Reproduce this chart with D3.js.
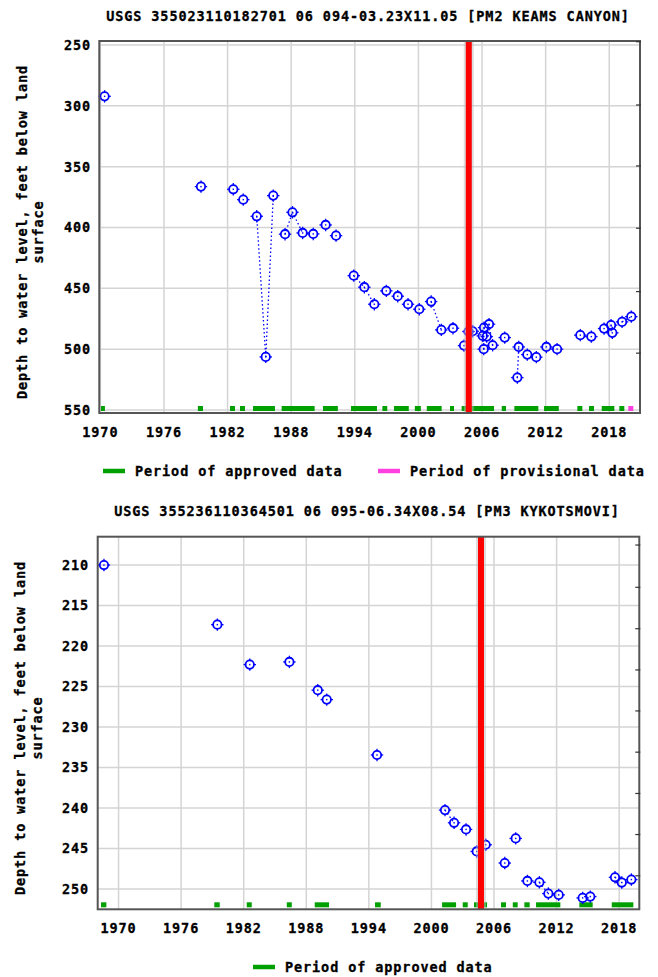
<!DOCTYPE html>
<html>
<head>
<meta charset="utf-8">
<script src="https://d3js.org/d3.v7.min.js"></script>
<style>
  body { margin: 0; background: #fff; }
  svg text { font-family: "DejaVu Sans Mono", monospace; font-weight: bold; font-size: 13.5px; letter-spacing: 0.9px; fill: #000; stroke: #000; stroke-width: 0.3px; }
</style>
</head>
<body>
<div id="chart"></div>
<script>
// ---- data, decimal years / feet below land surface ----
const xTickYears = [1970, 1976, 1982, 1988, 1994, 2000, 2006, 2012, 2018];
const markerYear = 2004.75;

// PM2 KEAMS CANYON
const topTitle = "USGS 355023110182701 06 094-03.23X11.05 [PM2 KEAMS CANYON]";
const topYTicks = [250, 300, 350, 400, 450, 500, 550];
const topRightTicks = [247.3, 299.3, 349.4, 400.6, 452.7, 503.3];
const topYears = [1970.4, 1979.49, 1982.54, 1983.48, 1984.75, 1985.6, 1986.31, 1987.42, 1988.12, 1989.08,
  1990.08, 1991.25, 1992.23, 1993.9, 1994.9, 1995.84, 1996.97, 1998.05, 1999.02, 2000.08,
  2001.2, 2002.16, 2003.26, 2004.3, 2004.72, 2005.12, 2006.07, 2006.16, 2006.19, 2006.44,
  2006.66, 2007.0, 2008.14, 2009.33, 2009.46, 2010.27, 2011.12, 2012.07, 2013.08, 2015.27,
  2016.31, 2017.51, 2018.17, 2018.29, 2019.21, 2020.08];
const topDepths = [292.2, 366.4, 368.6, 377.1, 390.8, 506.4, 373.8, 405.5, 387.5, 404.5,
  405.3, 397.9, 406.7, 439.6, 449.1, 463.1, 452.1, 456.5, 463.1, 467.2,
  460.9, 484.2, 482.8, 497.1, 485.5, 485.3, 489.1, 500.0, 482.3, 489.7,
  479.5, 496.8, 490.5, 523.4, 498.2, 504.5, 506.6, 498.2, 500.0, 488.5,
  489.7, 483.1, 480.3, 486.6, 477.6, 473.3];
const topLinks = [0, 0, 0, 0, 0, 1, 1, 0, 1, 1,
  0, 0, 0, 0, 1, 1, 0, 0, 0, 0,
  0, 1, 0, 0, 0, 1, 1, 1, 1, 1,
  1, 1, 0, 0, 1, 0, 0, 0, 0, 0,
  0, 0, 0, 1, 0, 1];
const topApprovedStart = [1970.06, 1979.2, 1982.23, 1983.17, 1984.4, 1987.1, 1991.0, 1993.64, 1996.6, 1997.7,
  1999.66, 2000.79, 2002.98, 2004.08, 2007.86, 2009.05, 2011.85, 2014.99, 2016.09, 2017.29, 2018.95];
const topApprovedEnd = [1970.43, 1979.68, 1982.7, 1983.64, 1986.47, 1990.21, 1992.4, 1996.09, 1997.06, 1999.09,
  2000.23, 2002.19, 2003.36, 2007.13, 2008.26, 2011.31, 2013.24, 2015.46, 2016.56, 2018.48, 2019.42];
const topProvisionalStart = [2019.8];
const topProvisionalEnd = [2020.27];

// PM3 KYKOTSMOVI
const bottomTitle = "USGS 355236110364501 06 095-06.34X08.54 [PM3 KYKOTSMOVI]";
const bottomYTicks = [210, 215, 220, 225, 230, 235, 240, 245, 250];
const bottomRightTicks = [207.53, 212.75, 217.86, 222.95, 228.01, 233.1, 238.2, 243.27, 248.36];
const bottomYears = [1968.6, 1979.47, 1982.58, 1986.38, 1989.1, 1989.96, 1994.78, 2001.3, 2002.17, 2003.32,
  2004.34, 2005.2, 2007.03, 2008.08, 2009.2, 2010.35, 2011.21, 2012.2, 2014.5, 2015.23,
  2017.6, 2018.25, 2019.17];
const bottomDepths = [210.0, 217.36, 222.29, 221.96, 225.45, 226.61, 233.45, 240.25, 241.82, 242.64,
  245.36, 244.53, 246.79, 243.75, 249.0, 249.17, 250.56, 250.72, 251.09, 250.93,
  248.55, 249.2, 248.83];
const bottomLinks = [0, 0, 0, 0, 0, 0, 0, 0, 1, 0,
  0, 0, 0, 0, 0, 0, 1, 0, 0, 0,
  0, 1, 0];
const bottomApprovedStart = [1968.32, 1979.18, 1982.29, 1986.13, 1988.81, 1994.59, 2001.02, 2003.0, 2004.08, 2006.67,
  2007.8, 2008.91, 2010.03, 2014.18, 2017.29];
const bottomApprovedEnd = [1968.83, 1979.7, 1982.77, 1986.61, 1990.18, 1995.14, 2002.36, 2003.48, 2005.33, 2007.15,
  2008.27, 2009.42, 2012.36, 2015.46, 2019.36];

const legendLabels = ["Period of approved data", "Period of provisional data"];
const yLabelLines = ["Depth to water level, feet below land", "surface"];

const approvedColor = "#00a000";
const provisionalColor = "#ff40e0";
const pointColor = "#0000ff";

var svg = d3.select("#chart").append("svg")
  .attr("width", 658)
  .attr("height", 977);

function drawMarker(g, cx, cy) {
  var m = g.append("g").attr("transform", `translate(${cx},${cy})`);
  m.append("circle").attr("r", 4.2).attr("fill", "none")
    .attr("stroke", pointColor).attr("stroke-width", 1.8);
  [[0, -4, 0, -6.2], [0, 4, 0, 6.2], [-4, 0, -6.2, 0], [4, 0, 6.2, 0]].forEach(function(t) {
    m.append("line").attr("x1", t[0]).attr("y1", t[1]).attr("x2", t[2]).attr("y2", t[3])
      .attr("stroke", pointColor).attr("stroke-width", 1.3);
  });
  m.append("rect").attr("x", -0.7).attr("y", -0.7).attr("width", 1.4).attr("height", 1.4)
    .attr("fill", pointColor);
}

function drawChart(opt) {
  var x = d3.scaleLinear().domain(opt.xDomain).range([opt.left, opt.right]);
  var y = d3.scaleLinear().domain(opt.yDomain).range([opt.top, opt.bottom]);
  var g = svg.append("g");

  // title
  g.append("text")
    .attr("x", opt.titleX)
    .attr("y", opt.titleY)
    .attr("text-anchor", "middle")
    .text(opt.title);

  // grid
  g.append("g").selectAll("line.v")
    .data(xTickYears)
    .enter().append("line")
    .attr("x1", d => x(d)).attr("x2", d => x(d))
    .attr("y1", opt.top).attr("y2", opt.bottom)
    .attr("stroke", "#d4d4d4").attr("stroke-width", 1.5);
  g.append("g").selectAll("line.h")
    .data(opt.yTicks)
    .enter().append("line")
    .attr("x1", opt.left).attr("x2", opt.right)
    .attr("y1", d => y(d)).attr("y2", d => y(d))
    .attr("stroke", "#d4d4d4").attr("stroke-width", 1.5);

  // period bars
  var barY = opt.bottom - 7;
  g.append("g").selectAll("rect")
    .data(opt.approvedStart.map((s, i) => [s, opt.approvedEnd[i]]))
    .enter().append("rect")
    .attr("x", d => x(d[0])).attr("width", d => x(d[1]) - x(d[0]))
    .attr("y", barY).attr("height", 5)
    .attr("fill", approvedColor);
  if (opt.provisionalStart) {
    g.append("g").selectAll("rect")
      .data(opt.provisionalStart.map((s, i) => [s, opt.provisionalEnd[i]]))
      .enter().append("rect")
      .attr("x", d => x(d[0])).attr("width", d => x(d[1]) - x(d[0]))
      .attr("y", barY).attr("height", 5)
      .attr("fill", provisionalColor);
  }

  // dotted links between close measurements
  var linkG = g.append("g");
  for (var i = 1; i < opt.years.length; i++) {
    if (opt.links[i]) {
      linkG.append("line")
        .attr("x1", x(opt.years[i - 1])).attr("y1", y(opt.depths[i - 1]))
        .attr("x2", x(opt.years[i])).attr("y2", y(opt.depths[i]))
        .attr("stroke", pointColor).attr("stroke-width", 1.3)
        .attr("stroke-dasharray", "1.5,2.5");
    }
  }

  // points
  var ptG = g.append("g");
  for (var j = 0; j < opt.years.length; j++) {
    drawMarker(ptG, x(opt.years[j]), y(opt.depths[j]));
  }

  // red marker line
  g.append("line")
    .attr("x1", x(markerYear)).attr("x2", x(markerYear))
    .attr("y1", opt.top).attr("y2", opt.bottom)
    .attr("stroke", "#bbb").attr("stroke-opacity", 0.5).attr("stroke-width", 10);
  g.append("line")
    .attr("x1", x(markerYear)).attr("x2", x(markerYear))
    .attr("y1", opt.top).attr("y2", opt.bottom)
    .attr("stroke", "#ff0000").attr("stroke-width", 6);

  // frame
  g.append("rect")
    .attr("x", opt.left).attr("y", opt.top)
    .attr("width", opt.right - opt.left).attr("height", opt.bottom - opt.top)
    .attr("fill", "none").attr("stroke", "#555").attr("stroke-width", 2);

  // right-side ticks
  g.append("g").selectAll("line")
    .data(opt.rightTicks)
    .enter().append("line")
    .attr("x1", opt.right - 4).attr("x2", opt.right + 1)
    .attr("y1", d => y(d)).attr("y2", d => y(d))
    .attr("stroke", "#333").attr("stroke-width", 1.2);

  // axis labels
  g.append("g").selectAll("text")
    .data(opt.yTicks)
    .enter().append("text")
    .attr("x", opt.yLabelRight)
    .attr("y", d => y(d))
    .attr("dy", "0.36em")
    .attr("text-anchor", "end")
    .text(d => d);
  g.append("g").selectAll("text")
    .data(xTickYears)
    .enter().append("text")
    .attr("x", d => x(d))
    .attr("y", opt.bottom + 24)
    .attr("text-anchor", "middle")
    .text(d => d);

  yLabelLines.forEach(function(line, k) {
    var lx = opt.yTitleX[k];
    g.append("text")
      .attr("transform", `translate(${lx},${opt.yTitleMid}) rotate(-90)`)
      .attr("dy", "0.36em")
      .attr("text-anchor", "middle")
      .text(line);
  });

  // legend
  opt.legend.forEach(function(item) {
    g.append("line")
      .attr("x1", item.x).attr("x2", item.x + 22)
      .attr("y1", opt.legendY).attr("y2", opt.legendY)
      .attr("stroke", item.color).attr("stroke-width", 4.5);
    g.append("text")
      .attr("x", item.x + 32)
      .attr("y", opt.legendY + 5)
      .text(item.label);
  });
}

drawChart({
  title: topTitle, titleX: 368, titleY: 21,
  left: 99.3, right: 640, top: 41, bottom: 413,
  xDomain: [1969.9, 2020.9], yDomain: [246.7, 552.5],
  yTicks: topYTicks, rightTicks: topRightTicks,
  years: topYears, depths: topDepths, links: topLinks,
  approvedStart: topApprovedStart, approvedEnd: topApprovedEnd,
  provisionalStart: topProvisionalStart, provisionalEnd: topProvisionalEnd,
  yLabelRight: 91, yTitleX: [22, 38], yTitleMid: 232,
  legendY: 471,
  legend: [
    { x: 103, color: approvedColor, label: legendLabels[0] },
    { x: 378, color: provisionalColor, label: legendLabels[1] }
  ]
});

drawChart({
  title: bottomTitle, titleX: 367, titleY: 516,
  left: 97.7, right: 639.3, top: 536.7, bottom: 909.3,
  xDomain: [1968.0, 2019.93], yDomain: [206.5, 252.5],
  yTicks: bottomYTicks, rightTicks: bottomRightTicks,
  years: bottomYears, depths: bottomDepths, links: bottomLinks,
  approvedStart: bottomApprovedStart, approvedEnd: bottomApprovedEnd,
  provisionalStart: null,
  yLabelRight: 89, yTitleX: [20, 37], yTitleMid: 728,
  legendY: 967,
  legend: [
    { x: 253, color: approvedColor, label: legendLabels[0] }
  ]
});
</script>
</body>
</html>
